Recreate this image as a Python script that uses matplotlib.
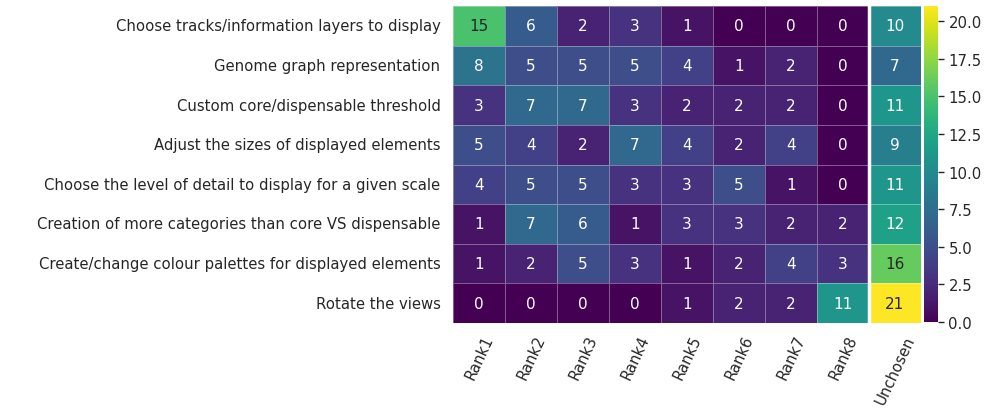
import matplotlib
matplotlib.use("Agg")
import matplotlib.pyplot as plt
import numpy as np
import pandas as pd
import seaborn as sns

features = [
    "Choose tracks/information layers to display",
    "Genome graph representation",
    "Custom core/dispensable threshold",
    "Adjust the sizes of displayed elements",
    "Choose the level of detail to display for a given scale",
    "Creation of more categories than core VS dispensable",
    "Create/change colour palettes for displayed elements",
    "Rotate the views",
]
columns = ["Rank1", "Rank2", "Rank3", "Rank4", "Rank5", "Rank6", "Rank7", "Rank8", "Unchosen"]

rank1 = [15, 8, 3, 5, 4, 1, 1, 0]
rank2 = [6, 5, 7, 4, 5, 7, 2, 0]
rank3 = [2, 5, 7, 2, 5, 6, 5, 0]
rank4 = [3, 5, 3, 7, 3, 1, 3, 0]
rank5 = [1, 4, 2, 4, 3, 3, 1, 1]
rank6 = [0, 1, 2, 2, 5, 3, 2, 2]
rank7 = [0, 2, 2, 4, 1, 2, 4, 2]
rank8 = [0, 0, 0, 0, 0, 2, 3, 11]
unchosen = [10, 7, 11, 9, 11, 12, 16, 21]

df = pd.DataFrame(
    np.array([rank1, rank2, rank3, rank4, rank5, rank6, rank7, rank8, unchosen]).T,
    index=features, columns=columns)

plt.rcParams["font.family"] = "DejaVu Sans"
plt.rcParams["text.color"] = "#262626"
plt.rcParams["xtick.color"] = "#262626"
plt.rcParams["ytick.color"] = "#262626"

fig = plt.figure(figsize=(9.93, 4.14), dpi=100)
W, H = 993, 414
ax = fig.add_axes([453 / W, 1 - 324 / H, 468 / W, 317 / H])
cax = fig.add_axes([924 / W, 1 - 323 / H, 14 / W, 316 / H])

sns.heatmap(df, ax=ax, cbar_ax=cax, cmap="viridis", vmin=0, vmax=21,
            annot=True, fmt="d", annot_kws={"fontsize": 11},
            linewidths=0.4, linecolor=(1, 1, 1, 0.35))
ax.axvline(8, color="white", lw=2.5)

ax.tick_params(axis="both", length=0, labelsize=10.7)
ax.tick_params(axis="y", pad=9)
ax.tick_params(axis="x", pad=7)
ax.set_yticklabels(features, rotation=0)
ax.set_xticklabels(columns, rotation=65)

cax.tick_params(labelsize=10.7, length=4, width=1)
cax.set_yticks([0, 2.5, 5, 7.5, 10, 12.5, 15, 17.5, 20])
cax.set_yticklabels(["0.0", "2.5", "5.0", "7.5", "10.0", "12.5", "15.0", "17.5", "20.0"])
for s in cax.spines.values():
    s.set_visible(False)

fig.savefig("out.png", dpi=100)
